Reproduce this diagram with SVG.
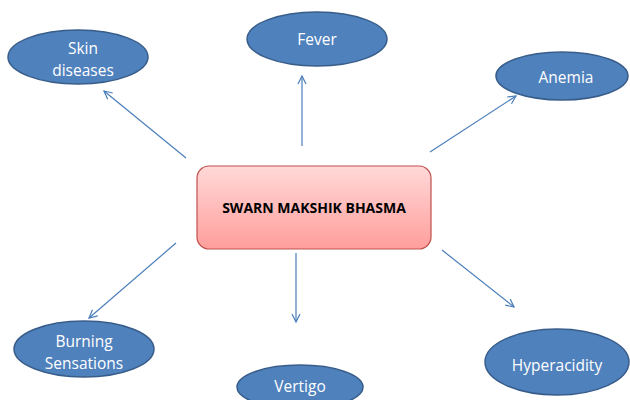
<svg xmlns="http://www.w3.org/2000/svg" width="630" height="400" viewBox="0 0 630 400">
<defs>
<linearGradient id="pink" x1="0" y1="0" x2="0" y2="1">
<stop offset="0" stop-color="#ffd9d8"/>
<stop offset="1" stop-color="#ff9e9c"/>
</linearGradient>
<marker id="arr" viewBox="0 0 10 10" refX="9" refY="5" markerWidth="10" markerHeight="10" markerUnits="userSpaceOnUse" orient="auto">
<path d="M1,1 L9,5 L1,9" fill="none" stroke="#4a7ebb" stroke-width="1.2"/>
</marker>
</defs>
<style>
.oval{fill:#4f81bd;stroke:#385d8a;stroke-width:1.5}
.t{font-family:"Open Sans","Liberation Sans",sans-serif;font-size:15.5px;fill:#ffffff;text-anchor:middle}
.c{stroke:#4a7ebb;stroke-width:1.2;fill:none;marker-end:url(#arr)}
</style>
<rect width="630" height="400" fill="#ffffff"/>
<g id="connectors">
<line class="c" x1="186" y1="158" x2="104" y2="91"/>
<line class="c" x1="302" y1="146" x2="302" y2="76"/>
<line class="c" x1="430" y1="152" x2="516" y2="96"/>
<line class="c" x1="176" y1="243" x2="89" y2="318"/>
<line class="c" x1="296" y1="253" x2="296" y2="322"/>
<line class="c" x1="442" y1="250" x2="514" y2="307"/>
</g>
<g id="center">
<rect x="197" y="166" width="234" height="83" rx="12" fill="url(#pink)" stroke="#c0504d" stroke-width="1.2"/>
<text x="314" y="213" font-family="'Open Sans','Liberation Sans',sans-serif" font-size="14" font-weight="bold" fill="#000000" text-anchor="middle">SWARN MAKSHIK BHASMA</text>
</g>
<g id="skin">
<ellipse class="oval" cx="78" cy="57" rx="70" ry="27"/>
<text class="t" x="83" y="54">Skin</text>
<text class="t" x="83" y="76">diseases</text>
</g>
<g id="fever">
<ellipse class="oval" cx="317" cy="39" rx="70" ry="27"/>
<text class="t" x="317" y="45">Fever</text>
</g>
<g id="anemia">
<ellipse class="oval" cx="562" cy="76" rx="66" ry="24"/>
<text class="t" x="566" y="83">Anemia</text>
</g>
<g id="burning">
<ellipse class="oval" cx="84" cy="349" rx="70" ry="28"/>
<text class="t" x="84" y="347">Burning</text>
<text class="t" x="84" y="369">Sensations</text>
</g>
<g id="vertigo">
<ellipse class="oval" cx="300" cy="387" rx="63" ry="22"/>
<text class="t" x="300" y="392">Vertigo</text>
</g>
<g id="hyperacidity">
<ellipse class="oval" cx="557" cy="362" rx="72" ry="33"/>
<text class="t" x="557" y="371">Hyperacidity</text>
</g>
</svg>
